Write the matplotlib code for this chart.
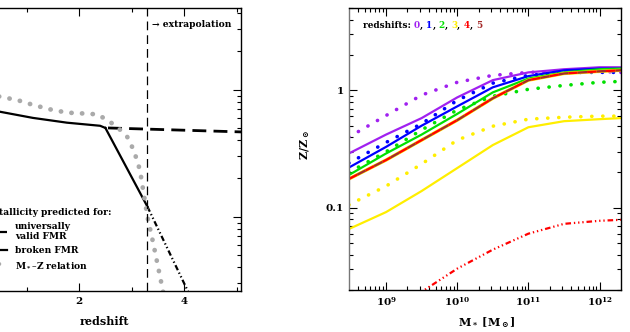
"""Metallicity vs redshift (left, cropped) and Z vs stellar mass (right)."""

import matplotlib
matplotlib.use('Agg')
import matplotlib.pyplot as plt
from matplotlib.lines import Line2D
from matplotlib.ticker import (LogLocator, NullFormatter, FixedLocator,
                               FixedFormatter, MultipleLocator, FuncFormatter)
import numpy as np

plt.rcParams['font.family'] = ['DejaVu Serif']
plt.rcParams['font.weight'] = 'bold'
plt.rcParams['axes.labelweight'] = 'bold'
plt.rcParams['mathtext.fontset'] = 'dejavuserif'

# --- Left panel: metallicity vs redshift ---
z_shared = [0.0, 0.5, 1.12, 1.77, 2.4, 2.5]
met_shared = [0.76, 0.67, 0.60, 0.55, 0.52, 0.50]
z_univ = [2.55, 5.1]
met_univ = [0.50, 0.465]
z_broken = [2.5, 3.3]
met_broken = [0.50, 0.12]
z_broken_ext = [3.3, 4.2]
met_broken_ext = [0.12, 0.020]
z_mz = [0.0, 0.5, 0.82, 1.12, 1.45, 1.77, 2.08, 2.34, 2.53, 2.72, 2.91,
        3.03, 3.1, 3.16, 3.3, 3.41, 3.58, 3.65]
met_mz = [1.0, 0.88, 0.83, 0.76, 0.70, 0.66, 0.65, 0.64, 0.58, 0.51, 0.43,
          0.34, 0.28, 0.23, 0.10, 0.062, 0.028, 0.020]
z_extrap = 3.3

# --- Right panel: Z/Zsun vs stellar mass ---
mstar = [3.0e8, 1e9, 3.16e9, 1e10, 3.16e10, 1e11, 3.16e11, 1e12, 2.0e12]
fmr_z0 = [0.29, 0.42, 0.58, 0.87, 1.22, 1.42, 1.51, 1.57, 1.57]
fmr_z1 = [0.22, 0.33, 0.50, 0.73, 1.06, 1.32, 1.48, 1.53, 1.53]
fmr_z2 = [0.19, 0.29, 0.42, 0.63, 0.96, 1.26, 1.42, 1.51, 1.53]
fmr_z345 = [0.176, 0.255, 0.377, 0.557, 0.855, 1.22, 1.39, 1.45, 1.48]
broken_z3 = [0.066, 0.092, 0.139, 0.218, 0.342, 0.485, 0.546, 0.568, 0.580]
mz_z0 = [0.40, 0.61, 0.91, 1.17, 1.34, 1.42, 1.45, 1.45, 1.42]
mz_z1 = [0.24, 0.36, 0.52, 0.82, 1.15, 1.34, 1.42, 1.42, 1.42]
mz_z2 = [0.20, 0.30, 0.46, 0.68, 0.89, 1.02, 1.10, 1.17, 1.19]
mz_z3 = [0.106, 0.153, 0.236, 0.377, 0.495, 0.568, 0.590, 0.603, 0.603]
mstar_ext = [2.5e9, 1e10, 3.16e10, 1e11, 3.16e11, 1e12, 2.0e12]
broken_z4 = [0.0176, 0.0304, 0.0441, 0.0603, 0.0731, 0.0776, 0.0791]

z_labels = ['0', '1', '2', '3', '4', '5']
z_colors = ['#A020F0', '#0000FF', '#00E000', '#FFEE00', '#FF0000', '#A52A2A']

FS = 6.4
dot = (0, (0.05, 3.0))

fig = plt.figure(figsize=(6.3, 3.32), dpi=100)
ax1 = fig.add_axes([-0.0413, 0.1235, 0.4238, 0.8524])
ax2 = fig.add_axes([0.554, 0.1265, 0.4317, 0.849])

for ax in (ax1, ax2):
    ax.tick_params(which='both', direction='in', top=True, right=True,
                   labelsize=7.5, width=0.8, pad=4)
    ax.tick_params(which='major', length=6)
    ax.tick_params(which='minor', length=3)
    for s in ax.spines.values():
        s.set_linewidth(1.0)

# left panel
ax1.plot(z_shared, met_shared, color='k', lw=1.6)
ax1.plot(z_broken, met_broken, color='k', lw=1.6)
ax1.plot(z_broken_ext, met_broken_ext, color='k', lw=1.6,
         ls=(0, (2.5, 1.2, 0.6, 1.2, 0.6, 1.2)))
ax1.plot(z_univ, met_univ, color='k', lw=2.0, ls=(0, (5, 2.6)))
ax1.plot(z_mz, met_mz, color='#AAAAAA', lw=3.4, ls=(0, (0.05, 2.2)),
         solid_capstyle='round', dash_capstyle='round')
ax1.axvline(z_extrap, color='k', lw=0.9, ls=(0, (7, 4)))
ax1.annotate('\u2192 extrapolation', xy=(z_extrap, 0.94),
             xycoords=('data', 'axes fraction'), xytext=(3, 0),
             textcoords='offset points', ha='left', va='center', fontsize=FS + 0.2)

ax1.set_yscale('log')
ax1.set_xlim(0, 5.08)
ax1.set_ylim(0.026, 4.4)
ax1.xaxis.set_major_locator(FixedLocator([2, 4]))
ax1.xaxis.set_minor_locator(MultipleLocator(1))
ax1.yaxis.set_major_locator(FixedLocator([0.1, 1]))
ax1.yaxis.set_minor_locator(LogLocator(subs=range(2, 10)))
ax1.yaxis.set_minor_formatter(NullFormatter())
ax1.tick_params(labelleft=False)
ax1.set_xlabel('redshift', fontsize=8)
ax1.xaxis.set_label_coords(0.49, -0.087)

handles = [Line2D([], [], color='k', lw=1.6, ls=(0, (5, 3))),
           Line2D([], [], color='k', lw=1.6),
           Line2D([], [], color='#AAAAAA', lw=3.0, ls=(0, (0.05, 2.2)),
                  dash_capstyle='round')]
labels = ['universally\nvalid FMR', 'broken FMR',
          '$\\mathbf{M}_*$\u2013Z relation']
ax1.legend(handles, labels, title='Metallicity predicted for:', loc='lower left',
           bbox_to_anchor=(0.034, 0.075), frameon=False, alignment='left',
           fontsize=FS + 0.2, title_fontsize=FS + 0.2, handlelength=2.6,
           handletextpad=0.9, labelspacing=0.55, borderaxespad=0, borderpad=0)

# right panel
ax2.plot(mstar, mz_z0, color=z_colors[0], lw=2.6, ls=dot, dash_capstyle='round')
ax2.plot(mstar, fmr_z0, color=z_colors[0], lw=1.6)
ax2.plot(mstar, mz_z1, color=z_colors[1], lw=2.6, ls=dot, dash_capstyle='round')
ax2.plot(mstar, fmr_z1, color=z_colors[1], lw=1.6)
ax2.plot(mstar, mz_z2, color=z_colors[2], lw=2.6, ls=dot, dash_capstyle='round')
ax2.plot(mstar, fmr_z2, color=z_colors[2], lw=1.6)
ax2.plot(mstar, fmr_z345, color=z_colors[3], lw=2.4)
ax2.plot(mstar, fmr_z345, color=z_colors[4], lw=1.7, ls=(0, (4, 4)))
ax2.plot(mstar, fmr_z345, color=z_colors[5], lw=1.7, ls=(4, (4, 4)))
ax2.plot(mstar, mz_z3, color=z_colors[3], lw=2.6, ls=dot, dash_capstyle='round')
ax2.plot(mstar, broken_z3, color=z_colors[3], lw=1.6)
ax2.plot(mstar_ext, broken_z4, color=z_colors[4], lw=1.6,
         ls=(0, (2.5, 1.3, 0.6, 1.3, 0.6, 1.3, 0.6, 1.3)))

ax2.set_xscale('log')
ax2.set_yscale('log')
ax2.set_xlim(10**8.48, 10**12.3)
ax2.set_ylim(0.02, 5.0)
ax2.xaxis.set_major_locator(LogLocator(base=10))
ax2.xaxis.set_major_formatter(
    FuncFormatter(lambda v, p: '$\\mathbf{10^{%d}}$' % round(np.log10(v))))
ax2.xaxis.set_minor_locator(LogLocator(base=10, subs=range(2, 10)))
ax2.xaxis.set_minor_formatter(NullFormatter())
ax2.yaxis.set_major_locator(FixedLocator([0.1, 1]))
ax2.yaxis.set_major_formatter(FixedFormatter(['0.1', '1']))
ax2.yaxis.set_minor_locator(LogLocator(subs=range(2, 10)))
ax2.yaxis.set_minor_formatter(NullFormatter())
ax2.spines['left'].set_color('#777777')
ax2.set_xlabel('$\\mathbf{M}_*$ [M$_\\odot$]', fontsize=8)
ax2.xaxis.set_label_coords(0.507, -0.09)
ax2.set_ylabel('Z/Z$_\\odot$', fontsize=8)
ax2.yaxis.set_label_coords(-0.135, 0.514)

# "redshifts: 0, 1, 2, 3, 4, 5" with coloured numbers
t = ax2.text(0.051, 0.94, 'redshifts: ', transform=ax2.transAxes,
             ha='left', va='center', fontsize=FS)
for i, (lab, col) in enumerate(zip(z_labels, z_colors)):
    t = ax2.annotate(lab, xy=(1, 0), xycoords=t, ha='left', va='bottom',
                     fontsize=FS, color=col)
    if i < len(z_labels) - 1:
        t = ax2.annotate(', ', xy=(1, 0), xycoords=t, ha='left', va='bottom',
                         fontsize=FS, color='k')

fig.savefig('out.png', dpi=100)
